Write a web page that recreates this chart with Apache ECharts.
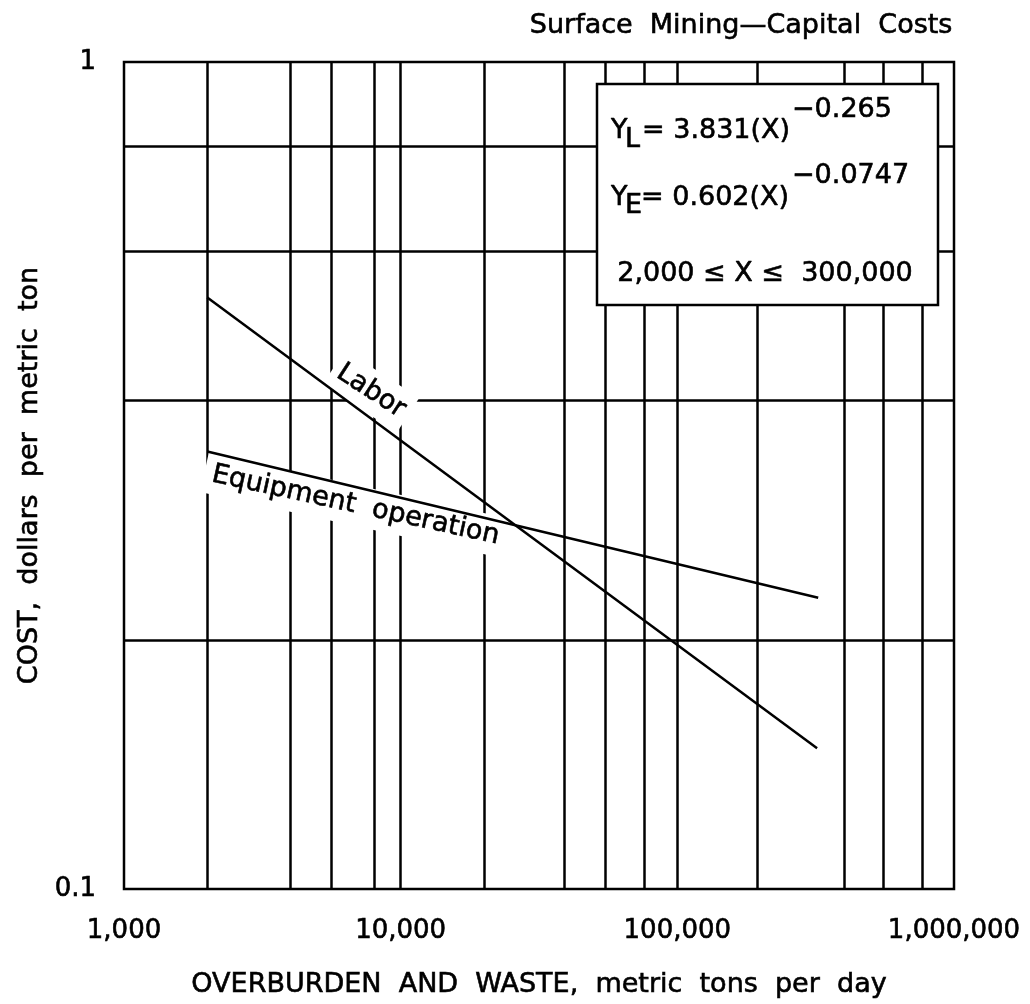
<!DOCTYPE html>
<html>
<head>
<meta charset="utf-8">
<script src="https://cdn.jsdelivr.net/npm/echarts@6/dist/echarts.min.js"></script>
<style>
  html, body { margin: 0; padding: 0; background: #fff; }
  #chart { width: 1030px; height: 1004px; }
</style>
</head>
<body>
<div id="chart"></div>
<script>
// Axis ticks and their printed labels
const xTicks = [1000, 10000, 100000, 1000000];
const xTickLabels = ['1,000', '10,000', '100,000', '1,000,000'];
const yTicks = [0.1, 1];
const yTickLabels = ['0.1', '1'];

// Ruled grid lines inside the plot
const xGridLines = [2000, 4000, 5600, 8000, 10000, 20000, 39000, 55000, 76000, 100000, 194000, 400000, 555000, 770000];
const yGridLines = [0.198, 0.393, 0.589, 0.786];

// Cost curves, dollars per metric ton
const laborX = [2000, 320000];
const laborY = [0.519, 0.148];
const equipX = [2000, 323000];
const equipY = [0.338, 0.225];

const FONT = '"DejaVu Sans", "Liberation Sans", sans-serif';
const INK = '#000';
const THICK = 0.6; // slight outline so the lettering reads as heavy as the ruled lines

function pairs(xs, ys) { return xs.map((x, i) => [x, ys[i]]); }
function tickLabel(ticks, labels, v) {
  const e = Math.round(Math.log10(v));
  const i = ticks.findIndex(t => Math.round(Math.log10(t)) === e);
  return i >= 0 ? labels[i] : '';
}

const chart = echarts.init(document.getElementById('chart'), null, { renderer: 'canvas' });

const gridMarks = xGridLines.map(v => ({ xAxis: v })).concat(yGridLines.map(v => ({ yAxis: v })));
const textInk = { color: INK, fontFamily: FONT, textBorderColor: INK, textBorderWidth: THICK };

chart.setOption({
  animation: false,
  backgroundColor: '#fff',
  title: {
    text: 'Surface  Mining\u2014Capital  Costs',
    right: 72, top: 7,
    textStyle: Object.assign({ fontSize: 27, fontWeight: 'normal' }, textInk)
  },
  grid: {
    left: 124, right: 76, top: 62, bottom: 115,
    show: true, borderColor: INK, borderWidth: 2.5, backgroundColor: '#fff'
  },
  xAxis: {
    type: 'log', logBase: 10, min: 1000, max: 1000000,
    name: 'OVERBURDEN  AND  WASTE,  metric  tons  per  day',
    nameLocation: 'middle', nameGap: 82,
    nameTextStyle: Object.assign({ fontSize: 27 }, textInk),
    axisLine: { show: false }, axisTick: { show: false },
    splitLine: { show: false }, minorSplitLine: { show: false },
    axisLabel: Object.assign({
      margin: 29, fontSize: 26,
      formatter: v => tickLabel(xTicks, xTickLabels, v)
    }, textInk)
  },
  yAxis: {
    type: 'log', logBase: 10, min: 0.1, max: 1,
    name: 'COST,  dollars  per  metric  ton',
    nameLocation: 'middle', nameGap: 80,
    nameTextStyle: Object.assign({ fontSize: 27 }, textInk),
    axisLine: { show: false }, axisTick: { show: false },
    splitLine: { show: false },
    axisLabel: Object.assign({
      margin: 28, fontSize: 26,
      formatter: v => tickLabel(yTicks, yTickLabels, v)
    }, textInk)
  },
  series: [
    {
      name: 'Labor', type: 'line', z: 5,
      data: pairs(laborX, laborY),
      showSymbol: false, symbol: 'none',
      lineStyle: { color: INK, width: 2.5 },
      markLine: {
        z: 1, silent: true, symbol: 'none', animation: false,
        label: { show: false },
        lineStyle: { color: INK, width: 2.5, type: 'solid' },
        emphasis: { disabled: true },
        data: gridMarks
      }
    },
    {
      name: 'Equipment operation', type: 'line', z: 5,
      data: pairs(equipX, equipY),
      showSymbol: false, symbol: 'none',
      lineStyle: { color: INK, width: 2.5 }
    }
  ]
});

// Curve names written along each line, on a white ground that breaks the rulings
function lineLabel(id, xs, ys, t, offset, tilt, text, padding) {
  const p0 = chart.convertToPixel({ gridIndex: 0 }, [xs[0], ys[0]]);
  const p1 = chart.convertToPixel({ gridIndex: 0 }, [xs[1], ys[1]]);
  const dx = p1[0] - p0[0], dy = p1[1] - p0[1];
  const len = Math.hypot(dx, dy);
  const nx = dy / len, ny = -dx / len;
  return {
    type: 'text', id, z: 3,
    x: p0[0] + dx * t + nx * offset,
    y: p0[1] + dy * t + ny * offset,
    rotation: -Math.atan2(dy, dx) + tilt,
    style: {
      text, fill: INK, font: '27px ' + FONT,
      stroke: INK, lineWidth: THICK,
      align: 'center', verticalAlign: 'middle',
      backgroundColor: '#fff', padding
    }
  };
}

// Equation box
const bx = 597, by = 84, bw = 341, bh = 221;
function txt(id, text, x, y, align) {
  return {
    type: 'text', id, z: 4, x, y,
    style: {
      text, fill: INK, font: '27px ' + FONT, stroke: INK, lineWidth: THICK,
      align: align || 'left', verticalAlign: 'middle'
    }
  };
}

chart.setOption({
  graphic: { elements: [
    lineLabel('labor-label', laborX, laborY, 0.247, 22, 0.06, 'Labor', [10, 6, 4, 6]),
    lineLabel('equip-label', equipX, equipY, 0.248, -18, 0.02, 'Equipment  operation', [1, 6, 12, 8]),
    {
      type: 'rect', id: 'eq-box', z: 3,
      shape: { x: bx, y: by, width: bw, height: bh },
      style: { fill: '#fff', stroke: INK, lineWidth: 2.5 }
    },
    txt('yl', 'Y', 611, 131),
    txt('yl-sub', 'L', 625, 140),
    txt('yl-eq', '= 3.831(X)', 642, 131),
    txt('yl-exp', '\u22120.265', 792, 110),
    txt('ye', 'Y', 611, 198),
    txt('ye-sub', 'E', 625, 206),
    txt('ye-eq', '= 0.602(X)', 641, 198),
    txt('ye-exp', '\u22120.0747', 792, 176),
    txt('range', '2,000 \u2264 X \u2264  300,000', 765, 274, 'center')
  ] }
});
</script>
</body>
</html>
